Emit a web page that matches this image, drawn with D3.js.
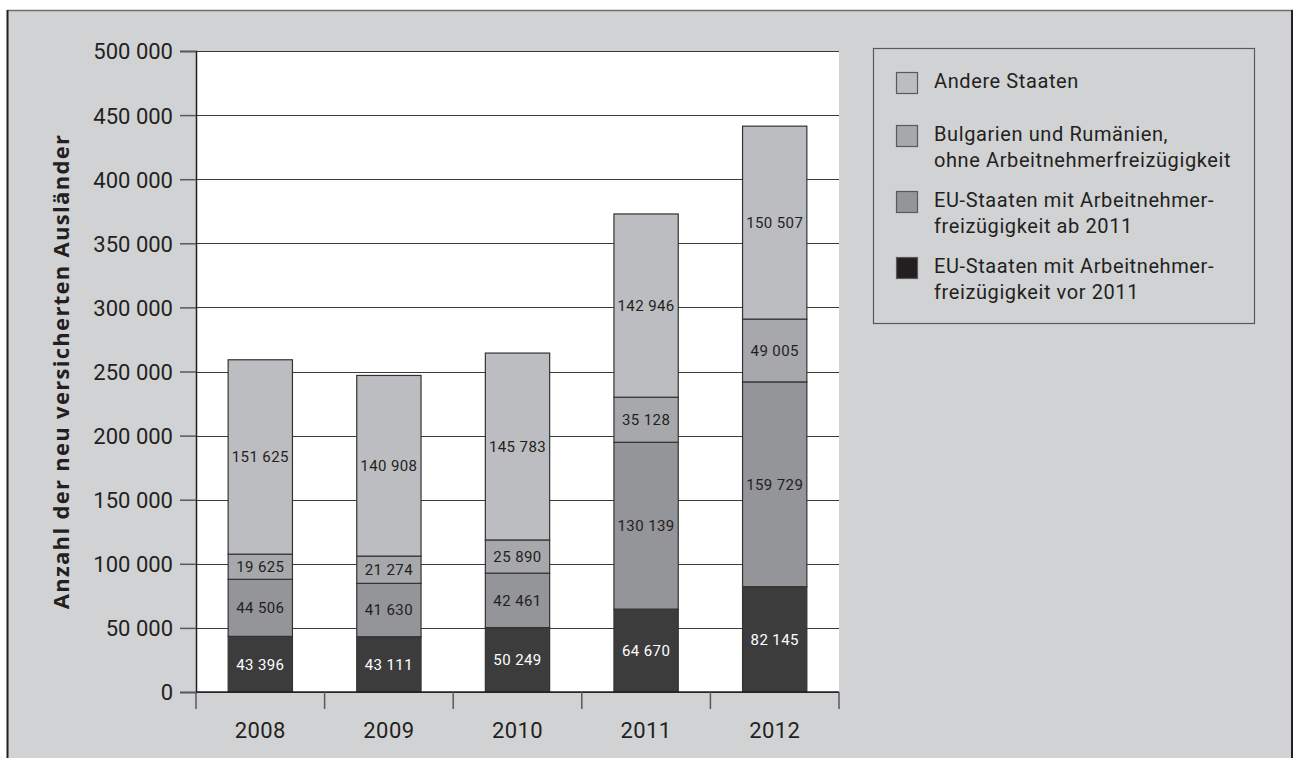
<!DOCTYPE html>
<html>
<head>
<meta charset="utf-8">
<script src="https://cdn.jsdelivr.net/npm/d3@7"></script>
<style>
  html, body { margin: 0; padding: 0; background: #ffffff; }
  svg { display: block; }
  text { font-family: Roboto, "DejaVu Sans", sans-serif; fill: #231f20; }
</style>
</head>
<body>
<svg id="chart" width="1293" height="758"></svg>
<script>
// Years on the x axis
const years = ["2008", "2009", "2010", "2011", "2012"];

// Newly insured foreign workers per group, stacked bottom to top
const euBefore2011 = [43396, 43111, 50249, 64670, 82145];
const euFrom2011 = [44506, 41630, 42461, 130139, 159729];
const bulgariaRomania = [19625, 21274, 25890, 35128, 49005];
const otherStates = [151625, 140908, 145783, 142946, 150507];

const seriesValues = [euBefore2011, euFrom2011, bulgariaRomania, otherStates];

// Legend entries, top to bottom, each as its printed lines
const legendLines = [
  ["Andere Staaten"],
  ["Bulgarien und Rumänien,", "ohne Arbeitnehmerfreizügigkeit"],
  ["EU-Staaten mit Arbeitnehmer-", "freizügigkeit ab 2011"],
  ["EU-Staaten mit Arbeitnehmer-", "freizügigkeit vor 2011"]
];

const yTicks = [0, 50000, 100000, 150000, 200000, 250000, 300000, 350000, 400000, 450000, 500000];
const yTitle = "Anzahl der neu versicherten Ausländer";

const barColors = ["#3c3c3d", "#939598", "#a7a8ab", "#bcbdc0"];
const legendColors = ["#bcbdc0", "#a7a8ab", "#939598", "#231f20"];
const labelColors = ["#ffffff", "#231f20", "#231f20", "#231f20"];

const de = d3.formatLocale({ decimal: ",", thousands: " ", grouping: [3], currency: ["", " €"] });
const fmt = de.format(",d");

const svg = d3.select("#chart");

// Outer panel
svg.append("rect").attr("x", 7).attr("y", 10).attr("width", 1286).attr("height", 748).attr("fill", "#d1d2d4");
svg.append("line").attr("x1", 7).attr("x2", 1293).attr("y1", 10.5).attr("y2", 10.5).attr("stroke", "#6d6e71").attr("stroke-width", 1.5);
svg.append("line").attr("x1", 7.5).attr("x2", 7.5).attr("y1", 10).attr("y2", 758).attr("stroke", "#231f20").attr("stroke-width", 2);
svg.append("line").attr("x1", 1292).attr("x2", 1292).attr("y1", 10).attr("y2", 758).attr("stroke", "#231f20").attr("stroke-width", 2);

const plot = { left: 196, right: 839, top: 51, bottom: 692 };

const x = d3.scaleBand().domain(years).range([plot.left, plot.right]).paddingInner(0.5).paddingOuter(0.25);
const xOuter = d3.scaleBand().domain(years).range([plot.left, plot.right]);
const y = d3.scaleLinear().domain([0, 500000]).range([plot.bottom, plot.top]);

// White plot background
svg.append("rect").attr("x", plot.left).attr("y", plot.top)
  .attr("width", plot.right - plot.left).attr("height", plot.bottom - plot.top).attr("fill", "#ffffff");

// Horizontal gridlines
svg.append("g").selectAll("line").data(yTicks).join("line")
  .attr("x1", plot.left).attr("x2", plot.right)
  .attr("y1", d => Math.round(y(d)) + 0.5).attr("y2", d => Math.round(y(d)) + 0.5)
  .attr("stroke", "#3a3a3a").attr("stroke-width", 1);

// Y axis
const yAxis = svg.append("g").attr("transform", `translate(${plot.left},0)`)
  .call(d3.axisLeft(y).tickValues(yTicks).tickFormat(fmt).tickSize(16).tickPadding(7));
yAxis.select(".domain").attr("stroke", "#231f20").attr("stroke-width", 1.5);
yAxis.selectAll(".tick line").attr("stroke", "#58595b").attr("stroke-width", 1.5);
yAxis.selectAll(".tick text").style("font-size", "22px")
  .attr("fill", "#231f20").attr("dy", "0.36em");

// Stacked bars
const stackData = years.map((yr, i) => {
  const row = { year: yr };
  seriesValues.forEach((s, k) => { row["s" + k] = s[i]; });
  return row;
});
const stack = d3.stack().keys(seriesValues.map((_, k) => "s" + k));
const layers = stack(stackData);

const barG = svg.append("g");
layers.forEach((layer, k) => {
  barG.append("g").selectAll("rect").data(layer).join("rect")
    .attr("x", d => x(d.data.year))
    .attr("width", x.bandwidth())
    .attr("y", d => y(d[1]))
    .attr("height", d => y(d[0]) - y(d[1]))
    .attr("fill", barColors[k])
    .attr("stroke", "#333333")
    .attr("stroke-width", 1.2);
});
layers.forEach((layer, k) => {
  barG.append("g").selectAll("text").data(layer).join("text")
    .attr("x", d => x(d.data.year) + x.bandwidth() / 2)
    .attr("y", d => (y(d[0]) + y(d[1])) / 2)
    .attr("dy", "0.36em")
    .attr("text-anchor", "middle")
    .style("font-size", "15px")
    .style("letter-spacing", "0.4px")
    .style("fill", labelColors[k])
    .text(d => fmt(d[1] - d[0]));
});

// X axis with boundary ticks between categories
const xg = svg.append("g");
xg.append("line").attr("x1", plot.left).attr("x2", plot.right)
  .attr("y1", plot.bottom).attr("y2", plot.bottom).attr("stroke", "#231f20").attr("stroke-width", 1.5);
const bounds = years.map(d => xOuter(d)).concat([plot.right]);
xg.selectAll("line.b").data(bounds).join("line").attr("class", "b")
  .attr("x1", d => d).attr("x2", d => d)
  .attr("y1", plot.bottom).attr("y2", plot.bottom + 17)
  .attr("stroke", "#58595b").attr("stroke-width", 1.5);
xg.selectAll("text").data(years).join("text")
  .attr("x", d => xOuter(d) + xOuter.bandwidth() / 2)
  .attr("y", 738)
  .attr("text-anchor", "middle")
  .style("font-size", "22px")
  .style("letter-spacing", "0.4px")
  .text(d => d);

// Y axis title
svg.append("text")
  .attr("transform", `translate(69,${(plot.top + plot.bottom) / 2}) rotate(-90)`)
  .attr("text-anchor", "middle")
  .style("font-family", "'Open Sans', Roboto, sans-serif")
  .style("font-size", "22px")
  .style("letter-spacing", "1.3px")
  .style("font-weight", "bold")
  .text(yTitle);

// Legend
const lg = svg.append("g");
lg.append("rect").attr("x", 873.5).attr("y", 48.5).attr("width", 381).attr("height", 275)
  .attr("fill", "none").attr("stroke", "#58595b").attr("stroke-width", 1.2);
const entryTop = [72, 125, 191, 257];
legendLines.forEach((lines, i) => {
  lg.append("rect").attr("x", 896.5).attr("y", entryTop[i] + 0.5).attr("width", 21).attr("height", 21)
    .attr("fill", legendColors[i]).attr("stroke", "#58595b").attr("stroke-width", 1.2);
  lines.forEach((t, j) => {
    lg.append("text").attr("x", 934).attr("y", entryTop[i] + 16 + j * 26)
      .style("font-size", "20px").style("letter-spacing", "0.6px").text(t);
  });
});
</script>
</body>
</html>
